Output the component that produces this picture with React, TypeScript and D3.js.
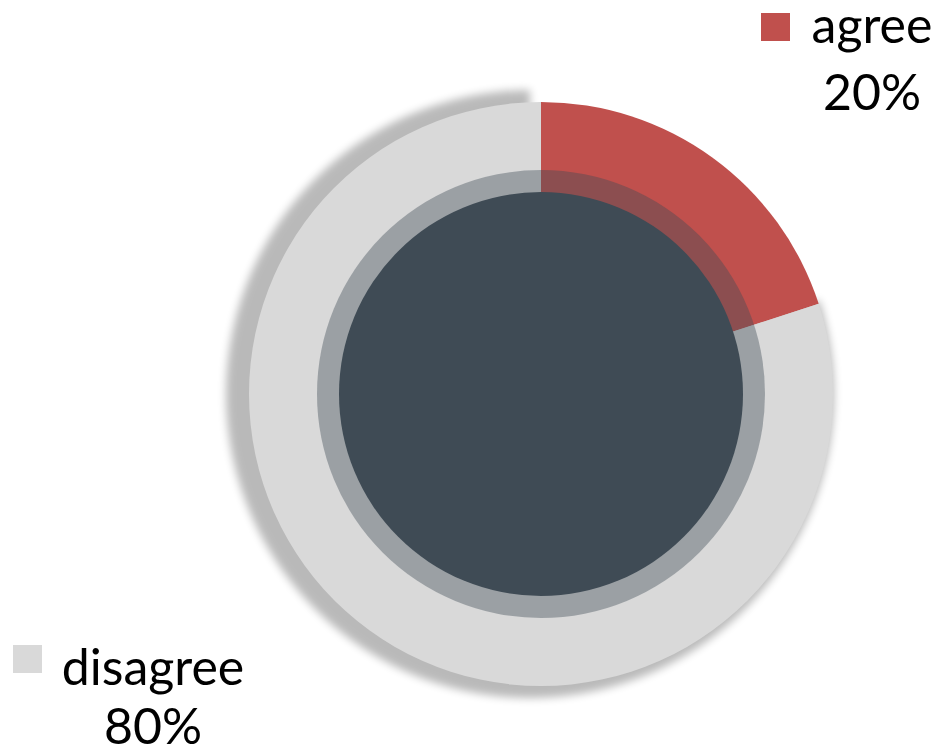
import React from "react";
import * as d3 from "d3";

const categories = ["agree", "disagree"];
const values = [20, 80];
const percentLabels = ["20%", "80%"];
const colors = ["#C0504D", "#D9D9D9"];

const W = 940;
const H = 747;
const cx = 541;
const cy = 394;
const R = 292;

export default function App() {
  const pie = d3
    .pie<number>()
    .sort(null)
    .startAngle(0)
    .endAngle(2 * Math.PI)
    .value((d) => d);
  const arcs = pie(values);
  const arc = d3.arc<d3.PieArcDatum<number>>().innerRadius(0).outerRadius(R);
  const shadowArc = d3.arc<d3.PieArcDatum<number>>().innerRadius(0).outerRadius(R + 12);

  const legend = [
    { sq: [761, 13], nameX: 872, nameY: 43, pctY: 110 },
    { sq: [13, 645], nameX: 153, nameY: 685, pctY: 744 },
  ];
  const font = "Lato, 'Open Sans', sans-serif";

  return (
    <svg
      width={W}
      height={H}
      style={{ position: "absolute", left: 0, top: 0, background: "#fff" }}
    >
      <defs>
        <filter id="blur" x="-20%" y="-20%" width="140%" height="140%">
          <feGaussianBlur stdDeviation={4} />
        </filter>
      </defs>
      <g transform={`translate(${cx - 11},${cy})`}>
        <path d={shadowArc(arcs[1]) || ""} fill="#000" opacity={0.27} filter="url(#blur)" />
      </g>
      <g transform={`translate(${cx},${cy})`}>
        {arcs.map((a, i) => (
          <path key={categories[i]} d={arc(a) || ""} fill={colors[i]} />
        ))}
        <circle r={224} fill="#3E4A54" opacity={0.4} />
        <circle r={202} fill="#3F4B55" />
      </g>
      {categories.map((c, i) => {
        const L = legend[i];
        return (
          <g key={c}>
            <rect x={L.sq[0]} y={L.sq[1]} width={29} height={28} fill={colors[i]} />
            <text
              x={L.nameX}
              y={L.nameY}
              textAnchor="middle"
              fontFamily={font}
              fontSize={50}
              fill="#000"
            >
              {c}
            </text>
            <text
              x={L.nameX}
              y={L.pctY}
              textAnchor="middle"
              fontFamily={font}
              fontSize={50}
              fill="#000"
            >
              {percentLabels[i]}
            </text>
          </g>
        );
      })}
    </svg>
  );
}
